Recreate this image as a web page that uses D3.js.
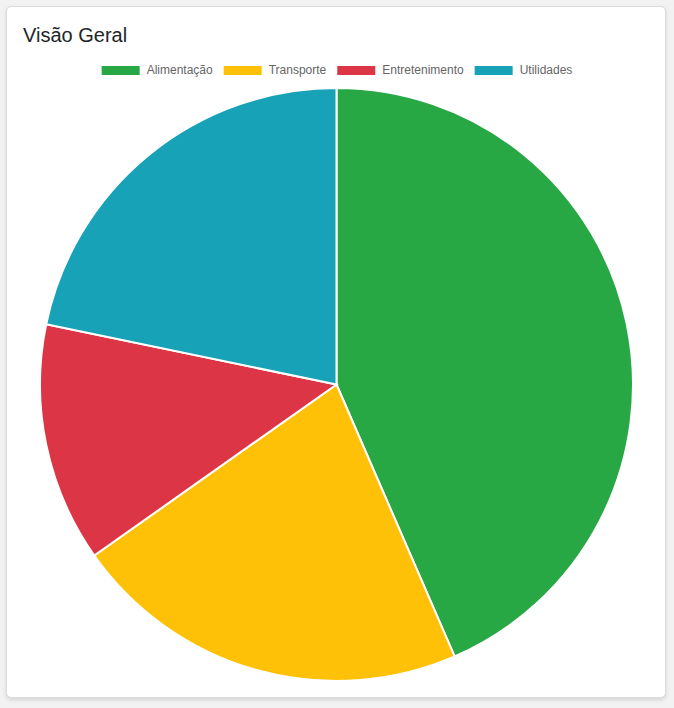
<!DOCTYPE html>
<html>
<head>
<meta charset="utf-8">
<script src="https://cdn.jsdelivr.net/npm/d3@7"></script>
<style>
  html, body { margin: 0; padding: 0; background: #f2f2f2; }
  body { width: 674px; height: 708px; overflow: hidden; }
  .card {
    position: absolute; left: 6px; top: 6px; width: 660px; height: 692px;
    background: #fff; border: 1px solid #dcdcdc; border-radius: 5px;
    box-shadow: 0 2px 4px rgba(0,0,0,0.12); box-sizing: border-box;
  }
  svg { position: absolute; left: 0; top: 0; }
</style>
</head>
<body>
<div class="card"></div>
<svg id="chart" width="674" height="708"></svg>
<script>
const categories = ["Alimentação", "Transporte", "Entretenimento", "Utilidades"];
const values = [1500, 750, 450, 750];
const colors = ["#28a745", "#ffc107", "#dc3545", "#17a2b8"];
const title = "Visão Geral";

const svg = d3.select("#chart");

svg.append("text")
  .attr("x", 23).attr("y", 42)
  .attr("font-family", "'Liberation Sans', Arial, Helvetica, sans-serif")
  .attr("font-size", 20)
  .attr("fill", "#212529")
  .text(title);

// Legend
const legendFont = "12px 'Liberation Sans', Arial, Helvetica, sans-serif";
const ctx = document.createElement("canvas").getContext("2d");
ctx.font = legendFont;
const boxW = 38, boxH = 9, gapBT = 7, gapItem = 11;
const widths = categories.map(c => boxW + gapBT + ctx.measureText(c).width);
const total = d3.sum(widths) + gapItem * (categories.length - 1);
let lx = 337 - total / 2;
const legend = svg.append("g");
categories.forEach((c, i) => {
  const g = legend.append("g").attr("transform", `translate(${lx},0)`);
  g.append("rect").attr("x", 0).attr("y", 66).attr("width", boxW).attr("height", boxH)
    .attr("fill", colors[i]);
  g.append("text").attr("x", boxW + gapBT).attr("y", 74)
    .attr("font-family", "'Liberation Sans', Arial, Helvetica, sans-serif")
    .attr("font-size", 12).attr("fill", "#666").text(c);
  lx += widths[i] + gapItem;
});

// Pie
const cx = 336.5, cy = 384.5, r = 296.5;
const pie = d3.pie().sort(null).value(d => d)(values);
const arc = d3.arc().innerRadius(0).outerRadius(r);
const color = d3.scaleOrdinal().domain(categories).range(colors);
svg.append("g").attr("transform", `translate(${cx},${cy})`)
  .selectAll("path").data(pie).join("path")
  .attr("d", arc)
  .attr("fill", (d, i) => color(categories[i]))
  .attr("stroke", "#fff").attr("stroke-width", 2);
</script>
</body>
</html>
